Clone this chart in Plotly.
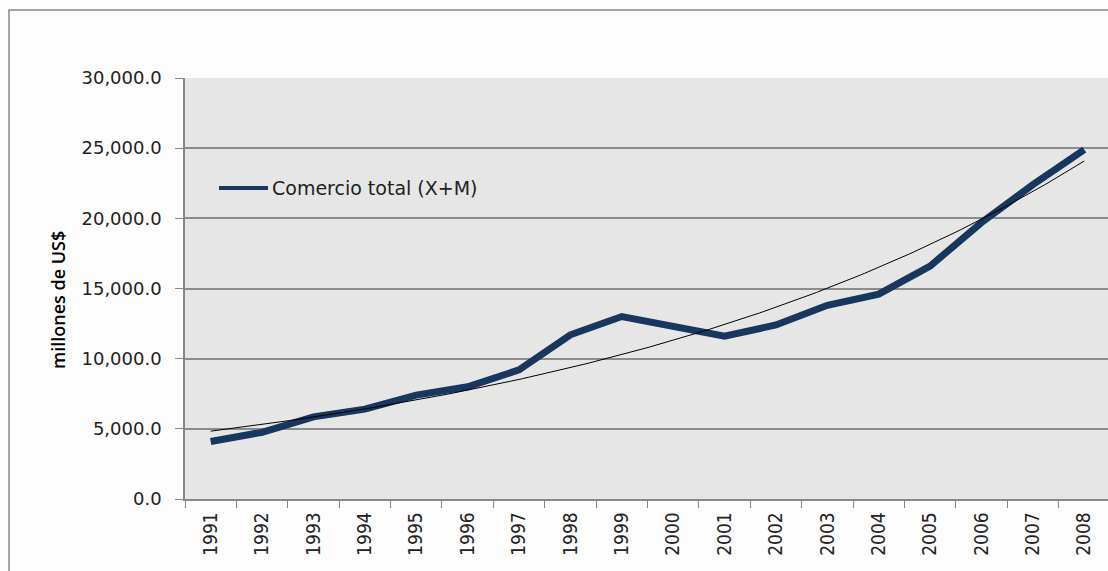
import numpy as np
import plotly.graph_objects as go

years = [str(y) for y in range(1991, 2009)]
comercio_total = [4100, 4750, 5850, 6400, 7400, 8000, 9200, 11700, 13000, 12300,
                  11600, 12400, 13800, 14600, 16600, 19700, 22400, 24900]
y_ticks = [0, 5000, 10000, 15000, 20000, 25000, 30000]
y_tick_text = ["0.0", "5,000.0", "10,000.0", "15,000.0", "20,000.0", "25,000.0", "30,000.0"]
series_name = "Comercio total (X+M)"
y_title = "millones de US$"

# Exponential trendline (least-squares fit on log values, as in the spreadsheet)
idx = np.arange(1, len(comercio_total) + 1)
b, a = np.polyfit(idx, np.log(comercio_total), 1)
t_fine = np.linspace(1, len(comercio_total), 200)
trend = np.exp(a + b * t_fine)

LINE_COLOR = "#17375E"

fig = go.Figure()
fig.add_trace(go.Scatter(
    x=t_fine - 1, y=trend, mode="lines", xaxis="x2",
    line=dict(color="black", width=1), showlegend=False, hoverinfo="skip"))
fig.add_trace(go.Scatter(
    x=years, y=comercio_total, mode="lines", name=series_name,
    line=dict(color=LINE_COLOR, width=7), showlegend=False))

tick_font = dict(family="DejaVu Sans", size=18, color="#222222")

# plot area in screen px: x 185..1110, y 78..499
PW, PH = 925.0, 421.0
def px_x(px):
    return (px - 185) / PW
def px_y(py):
    return (499 - py) / PH

fig.update_layout(
    width=1110, height=571,
    margin=dict(l=185, r=0, t=78, b=72),
    paper_bgcolor="#fdfdfd", plot_bgcolor="#e6e6e6",
    showlegend=False,
    xaxis=dict(type="category", range=[-0.5, 17.5], showgrid=False,
               tickangle=-90, tickfont=dict(family="DejaVu Sans Condensed, Liberation Sans Narrow, DejaVu Sans", size=19, color="#222222"),
               ticks="outside", ticklen=7, tickcolor="#888888",
               tickson="boundaries", showline=True, linecolor="#888888", linewidth=1.5,
               ticklabelstandoff=4,
               zeroline=False, fixedrange=True),
    xaxis2=dict(overlaying="x", range=[-0.5, 17.5], visible=False),
    yaxis=dict(range=[0, 30000], tickvals=y_ticks, ticktext=y_tick_text,
               tickfont=tick_font, ticks="outside", ticklen=8, tickcolor="#888888",
               showgrid=True, gridcolor="#8c8c8c", gridwidth=1.5,
               showline=True, linecolor="#888888", linewidth=1.5, zeroline=False,
               ticklabelstandoff=10),
)

# y-axis title
fig.add_annotation(text=y_title, textangle=-90, xref="paper", yref="paper",
                   x=px_x(58), y=px_y(300), xanchor="center", yanchor="middle",
                   showarrow=False,
                   font=dict(family="Open Sans", size=18, color="black", weight=600))

# legend (line sample + label)
fig.add_shape(type="line", xref="paper", yref="paper",
              x0=px_x(219), x1=px_x(268), y0=px_y(188), y1=px_y(188),
              line=dict(color=LINE_COLOR, width=4))
fig.add_annotation(text=series_name, xref="paper", yref="paper",
                   x=px_x(270), y=px_y(188), xanchor="left", yanchor="middle",
                   showarrow=False,
                   font=dict(family="DejaVu Sans", size=19, color="#222222"))

# outer chart border
fig.add_shape(type="rect", xref="paper", yref="paper",
              x0=px_x(9), x1=1.2, y0=-0.3, y1=px_y(10),
              line=dict(color="#888888", width=1.5), fillcolor="rgba(0,0,0,0)", layer="below")

fig.write_html("out.html", config={"displayModeBar": False},
               post_script="document.body.style.margin='0';document.body.style.overflow='hidden';")
